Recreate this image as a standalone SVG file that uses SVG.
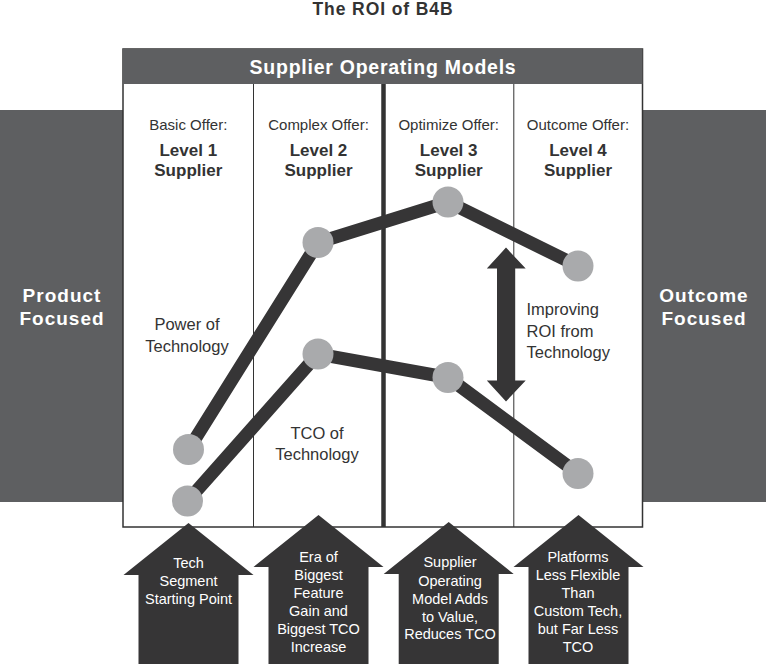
<svg xmlns="http://www.w3.org/2000/svg" width="766" height="664" viewBox="0 0 766 664">
<style>
text{font-family:"Liberation Sans",Arial,Helvetica,sans-serif;}
.title{font-size:17.5px;font-weight:bold;fill:#333;letter-spacing:0.9px;text-anchor:middle;}
.hdr{font-size:19.5px;font-weight:bold;fill:#fff;letter-spacing:0.75px;text-anchor:middle;}
.side{font-size:19px;font-weight:bold;fill:#fff;letter-spacing:1px;text-anchor:middle;}
.offer{font-size:15px;fill:#333;text-anchor:middle;}
.lvl{font-size:17px;font-weight:bold;fill:#333;text-anchor:middle;}
.lbl{font-size:16.5px;fill:#333;}
.mid{text-anchor:middle;}
.atxt{font-size:14.5px;fill:#fff;text-anchor:middle;}
.gray{fill:#5e5f61;}
.dot{fill:#a9aaac;}
.conn{stroke:#363536;stroke-width:13;fill:none;stroke-linecap:butt;}
.arr{fill:#363536;}
</style>
<rect width="766" height="664" fill="#fff"/>
<text class="title" x="383" y="15">The ROI of B4B</text>

<g id="product-focused">
<rect class="gray" x="0" y="110" width="123" height="392"/>
<text class="side" x="62" y="302">Product</text>
<text class="side" x="62" y="325">Focused</text>
</g>
<g id="outcome-focused">
<rect class="gray" x="642" y="110" width="124" height="392"/>
<text class="side" x="704" y="302">Outcome</text>
<text class="side" x="704" y="325">Focused</text>
</g>

<g id="supplier-operating-models">
<rect x="123" y="49" width="519.5" height="478" fill="#fff" stroke="#333" stroke-width="1.5"/>
<rect class="gray" x="123" y="49" width="519.5" height="35"/>
<text class="hdr" x="383" y="73.5">Supplier Operating Models</text>
<line x1="253.5" y1="84" x2="253.5" y2="527" stroke="#333" stroke-width="1"/>
<line x1="383.5" y1="84" x2="383.5" y2="527" stroke="#333" stroke-width="4.5"/>
<line x1="513.8" y1="84" x2="513.8" y2="527" stroke="#333" stroke-width="1"/>
</g>

<g id="level1">
<text class="offer" x="188.3" y="130">Basic Offer:</text>
<text class="lvl" x="188.3" y="155.5">Level 1</text>
<text class="lvl" x="188.3" y="175.5">Supplier</text>
</g>
<g id="level2">
<text class="offer" x="318.5" y="130">Complex Offer:</text>
<text class="lvl" x="318.5" y="155.5">Level 2</text>
<text class="lvl" x="318.5" y="175.5">Supplier</text>
</g>
<g id="level3">
<text class="offer" x="448.7" y="130">Optimize Offer:</text>
<text class="lvl" x="448.7" y="155.5">Level 3</text>
<text class="lvl" x="448.7" y="175.5">Supplier</text>
</g>
<g id="level4">
<text class="offer" x="578" y="130">Outcome Offer:</text>
<text class="lvl" x="578" y="155.5">Level 4</text>
<text class="lvl" x="578" y="175.5">Supplier</text>
</g>

<g id="connectors">
<polyline class="conn" points="188.5,449.5 318,242.5 448,202 578,266"/>
<polyline class="conn" points="187.5,501 318,354 448,377.5 578,473.5"/>
</g>

<g id="power-points">
<circle class="dot" cx="188.5" cy="449.5" r="15.5"/>
<circle class="dot" cx="318" cy="242.5" r="15.5"/>
<circle class="dot" cx="448" cy="202" r="15.5"/>
<circle class="dot" cx="578" cy="266" r="15.5"/>
</g>
<g id="tco-points">
<circle class="dot" cx="187.5" cy="501" r="15.5"/>
<circle class="dot" cx="318" cy="354" r="15.5"/>
<circle class="dot" cx="448" cy="377.5" r="15.5"/>
<circle class="dot" cx="578" cy="473.5" r="15.5"/>
</g>

<g id="power-label">
<text class="lbl mid" x="187" y="330">Power of</text>
<text class="lbl mid" x="187" y="352">Technology</text>
</g>
<g id="tco-label">
<text class="lbl mid" x="317" y="438.5">TCO of</text>
<text class="lbl mid" x="317" y="460">Technology</text>
</g>

<g id="roi-arrow">
<polygon class="arr" points="506,247.6 525.7,268.6 515.2,268.6 515.2,380.6 525.7,380.6 506,401.4 486.8,380.6 497,380.6 497,268.6 486.8,268.6"/>
</g>
<g id="roi-label">
<text class="lbl" x="526.5" y="315">Improving</text>
<text class="lbl" x="526.5" y="336.5">ROI from</text>
<text class="lbl" x="526.5" y="358">Technology</text>
</g>

<g id="arrow1">
<polygon class="arr" points="188.5,523 253.5,575 238.5,575 238.5,664 138.5,664 138.5,575 123.5,575"/>
<text class="atxt" x="188.5" y="568">Tech</text>
<text class="atxt" x="188.5" y="586">Segment</text>
<text class="atxt" x="188.5" y="604">Starting Point</text>
</g>
<g id="arrow2">
<polygon class="arr" points="318.5,515 383.5,567 368.5,567 368.5,664 268.5,664 268.5,567 253.5,567"/>
<text class="atxt" x="318.5" y="562">Era of</text>
<text class="atxt" x="318.5" y="580">Biggest</text>
<text class="atxt" x="318.5" y="598">Feature</text>
<text class="atxt" x="318.5" y="616">Gain and</text>
<text class="atxt" x="318.5" y="634">Biggest TCO</text>
<text class="atxt" x="318.5" y="652">Increase</text>
</g>
<g id="arrow3">
<polygon class="arr" points="448.7,522 513.7,574 498.7,574 498.7,664 398.7,664 398.7,574 383.7,574"/>
<text class="atxt" x="450" y="567">Supplier</text>
<text class="atxt" x="450" y="585.5">Operating</text>
<text class="atxt" x="450" y="604">Model Adds</text>
<text class="atxt" x="450" y="621.7">to Value,</text>
<text class="atxt" x="450" y="639.3">Reduces TCO</text>
</g>
<g id="arrow4">
<polygon class="arr" points="578.5,515 643.5,567 628.5,567 628.5,664 528.5,664 528.5,567 513.5,567"/>
<text class="atxt" x="578" y="562">Platforms</text>
<text class="atxt" x="578" y="580">Less Flexible</text>
<text class="atxt" x="578" y="598">Than</text>
<text class="atxt" x="578" y="616">Custom Tech,</text>
<text class="atxt" x="578" y="634">but Far Less</text>
<text class="atxt" x="578" y="652">TCO</text>
</g>
</svg>
